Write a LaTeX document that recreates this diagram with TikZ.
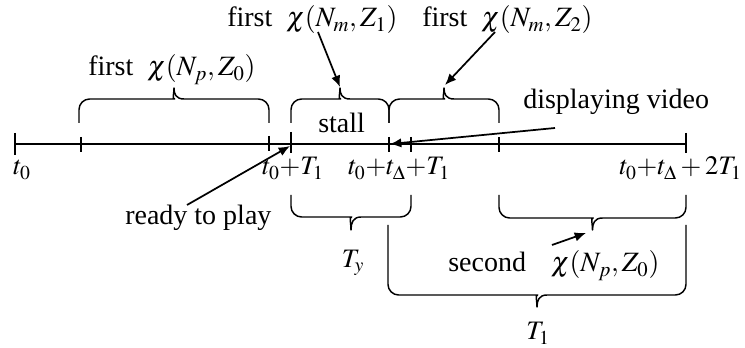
\documentclass[tikz,border=0pt]{standalone}
\usepackage{mathptmx}
\usepackage{fontspec}
\setmainfont{Liberation Serif}
\usetikzlibrary{arrows.meta,calc}
\newcommand{\cbrace}[5]{%
  \pgfmathsetmacro\bm{(#1+#2)/2}%
  \pgfmathsetmacro\bq{#4+0.45*(#5-#4)}%
  \draw[brc] (#1,#3) [rounded corners=8] -- (#1,#4) -- (\bm-10,#4) [sharp corners]
    .. controls (\bm-2,#4) and (\bm,\bq) .. (\bm,#5)
    .. controls (\bm,\bq) and (\bm+2,#4) .. (\bm+10,#4) [rounded corners=8]
    -- (#2,#4) -- (#2,#3);}
\begin{document}
\begin{tikzpicture}[x=0.75pt,y=-0.75pt,
  every node/.style={font=\fontsize{21}{25}\selectfont, inner sep=0pt, anchor=base west},
  mlab/.style={font=\fontsize{20}{24}\selectfont},
  axis/.style={line width=1pt},
  tick/.style={line width=1pt},
  bigtick/.style={line width=1.6pt},
  brc/.style={line width=1.1pt, line join=round},
  arr/.style={line width=1.3pt, -{Latex[length=8.5pt,width=7pt]}}]
\useasboundingbox (0,0) rectangle (745,348);
% timeline
\coordinate (tA) at (15,144);
\coordinate (tB) at (686,144);
\draw[axis] (tA) -- (tB);
\draw[tick] (15,133) -- (15,155);
\draw[tick] (81,137) -- (81,152);
\draw[tick] (269,136) -- (269,151);
\draw[bigtick] (291,132) -- (291,153);
\draw[tick] (389,137) -- (389,152);
\draw[tick] (411,137) -- (411,152);
\draw[tick] (499,137) -- (499,152);
\draw[bigtick] (686,133) -- (686,153);
% braces above
\cbrace{79}{269}{123}{99}{88}
\cbrace{291}{389}{123}{99}{88}
\cbrace{389}{499}{123}{99}{88}
% braces below
\cbrace{291}{411}{195}{217}{230}
\cbrace{499}{686}{195}{218}{230}
\cbrace{388}{686}{225}{295}{307}
% labels
\node (fp0) at (88,76) {first\hspace{0.5em}$\chi(N_p,Z_0)$};
\node (fm1) at (227,27) {first\hspace{0.5em}$\chi(N_m,Z_1)$};
\node (fm2) at (422,27) {first\hspace{0.5em}$\chi(N_m,Z_2)$};
\node (stall) at (318,133) {stall};
\node (dv) at (523,109) {displaying video};
\node[mlab] (l0) at (13,175) {$t_0$};
\node[mlab, anchor=base east] (l1) at (324,175) {$t_0{+}T_1$};
\node[mlab, anchor=base] (l2) at (399,175) {$t_0{+}t_\Delta{+}T_1$};
\node[mlab, anchor=base east] (l3) at (742,175) {$t_0{+}t_\Delta+2T_1$};
\node (rtp) at (125,225) {ready to play};
\node[mlab, anchor=base] (ty) at (353,268) {$T_y$};
\node (sec) at (448,272) {second\hspace{0.9em}$\chi(N_p,Z_0)$};
\node[mlab, anchor=base] (tone) at (538,340) {$T_1$};
% arrow ends
\coordinate (rtpS) at (187,205);
\coordinate (rtpE) at (290,146);
\coordinate (fm1S) at (318,32);
\coordinate (fm1E) at (340,87);
\coordinate (fm2S) at (495,32);
\coordinate (fm2E) at (445,85);
\coordinate (dvS) at (555,128);
\coordinate (dvE) at (390,144);
\coordinate (secS) at (552,245);
\coordinate (secE) at (586,233);
\draw[arr] (rtpS) -- (rtpE);
\draw[arr] (fm1S) -- (fm1E);
\draw[arr] (fm2S) -- (fm2E);
\draw[arr] (dvS) -- (dvE);
\draw[arr] (secS) -- (secE);
\end{tikzpicture}
\end{document}
